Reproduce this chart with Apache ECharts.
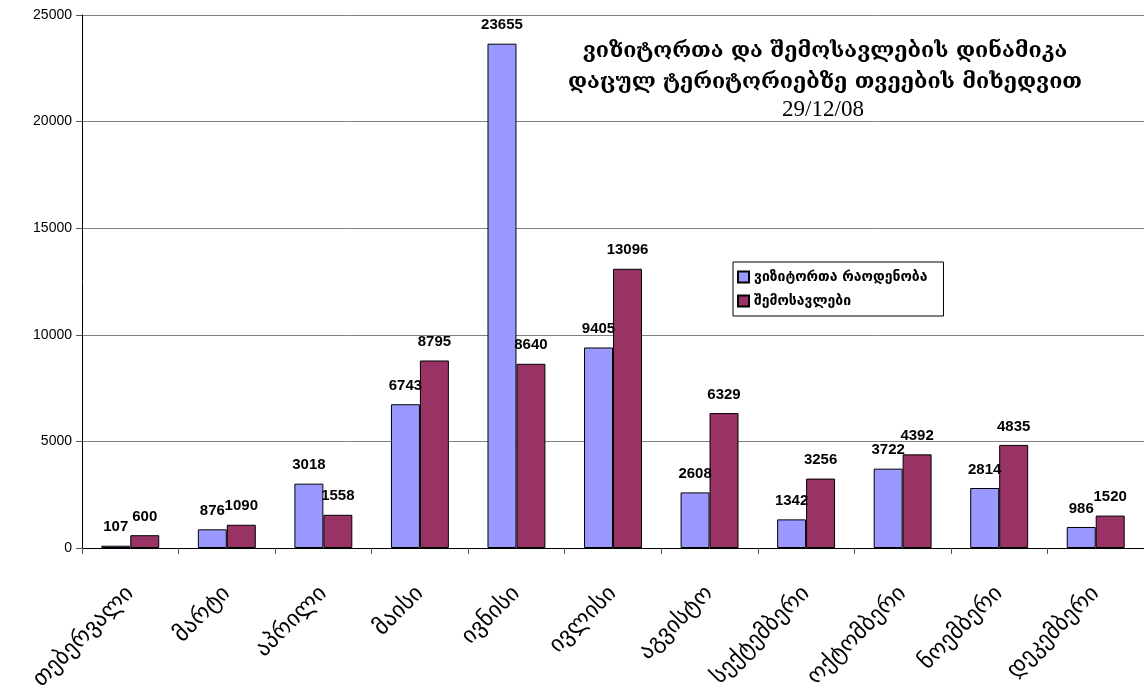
<!DOCTYPE html>
<html><head><meta charset="utf-8">
<script src="https://cdn.jsdelivr.net/npm/echarts@6/dist/echarts.min.js"></script>
<style>html,body{margin:0;padding:0;background:#fff}#c{width:1144px;height:694px}</style>
</head><body><div id="c"></div>
<script>
const categories = ['თებერვალი','მარტი','აპრილი','მაისი','ივნისი','ივლისი','აგვისტო','სექტემბერი','ოქტომბერი','ნოემბერი','დეკემბერი'];
const visitors = [107, 876, 3018, 6743, 23655, 9405, 2608, 1342, 3722, 2814, 986];
const revenue = [600, 1090, 1558, 8795, 8640, 13096, 6329, 3256, 4392, 4835, 1520];
const seriesNames = ['ვიზიტორთა რაოდენობა', 'შემოსავლები'];
const titleText = 'ვიზიტორთა და შემოსავლების დინამიკა\nდაცულ ტერიტორიებზე თვეების მიხედვით';
const dateText = '29/12/08';

const chart = echarts.init(document.getElementById('c'));
const lbl = {show:true, position:'top', distance:11, color:'#000', fontFamily:'Liberation Sans, Arial', fontWeight:'bold', fontSize:15};
chart.setOption({
  animation:false,
  title:[
    {text:titleText, left:820, top:31, textAlign:'center',
      textStyle:{fontFamily:'DejaVu Serif, serif', fontSize:21.5, fontWeight:'bold', color:'#000', lineHeight:31}},
    {text:dateText, left:818, top:93, textAlign:'center',
      textStyle:{fontFamily:'Liberation Serif, serif', fontSize:23, fontWeight:'normal', color:'#000'}}
  ],
  legend:{orient:'vertical', left:733, top:262, itemWidth:11, itemHeight:11, itemGap:10,
    borderColor:'#000', borderWidth:1, padding:[8,16,8,4], icon:'rect',
    textStyle:{fontFamily:'DejaVu Sans', fontSize:14, color:'#000', fontWeight:'bold'}},
  grid:{left:82, right:0, top:15, bottom:146, containLabel:false},
  xAxis:{type:'category', data:categories,
    axisLine:{lineStyle:{color:'#000'}},
    axisTick:{show:true, length:6, lineStyle:{color:'#555'}},
    axisLabel:{rotate:45, fontFamily:'DejaVu Sans', fontSize:23, color:'#000', margin:42, interval:0}},
  yAxis:{type:'value', min:0, max:25000, interval:5000,
    axisLine:{show:true, lineStyle:{color:'#000'}},
    axisTick:{show:true, length:6, lineStyle:{color:'#555'}},
    axisLabel:{fontFamily:'Liberation Sans, Arial', fontSize:14, color:'#000', margin:10, formatter:function(v){return String(v);}},
    splitLine:{lineStyle:{color:'#808080', width:1}}},
  series:[
    {name:seriesNames[0], type:'bar', data:visitors, barGap:'0%', barCategoryGap:'40%',
      itemStyle:{color:'#9999FF', borderColor:'#000', borderWidth:1}, label:lbl},
    {name:seriesNames[1], type:'bar', data:revenue,
      itemStyle:{color:'#993366', borderColor:'#000', borderWidth:1}, label:lbl}
  ]
});
</script></body></html>
